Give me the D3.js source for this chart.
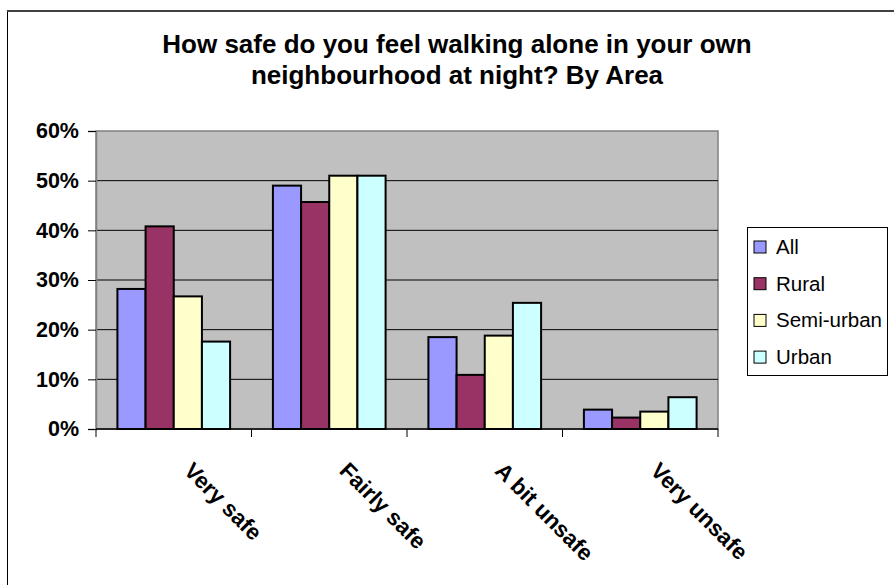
<!DOCTYPE html>
<html>
<head>
<meta charset="utf-8">
<script src="https://cdn.jsdelivr.net/npm/d3@7"></script>
<style>
  html, body { margin: 0; padding: 0; background: #fff; }
  svg { display: block; font-family: "Liberation Sans", Arial, sans-serif; }
</style>
</head>
<body>
<svg id="chart" width="894" height="585"></svg>
<script>
// Survey responses by area (share of respondents)
const categories = ["Very safe", "Fairly safe", "A bit unsafe", "Very unsafe"];
const seriesNames = ["All", "Rural", "Semi-urban", "Urban"];
const allValues = [0.282, 0.490, 0.185, 0.039];
const ruralValues = [0.408, 0.457, 0.109, 0.023];
const semiUrbanValues = [0.267, 0.510, 0.188, 0.035];
const urbanValues = [0.176, 0.510, 0.254, 0.064];
const yTicks = [0, 0.1, 0.2, 0.3, 0.4, 0.5, 0.6];
const seriesColors = ["#9999FF", "#993366", "#FFFFCC", "#CCFFFF"];

const seriesValues = [allValues, ruralValues, semiUrbanValues, urbanValues];
const table = categories.map((c, i) => ({
  category: c,
  values: seriesNames.map((s, j) => ({ series: s, value: seriesValues[j][i] }))
}));

const svg = d3.select("#chart");

// chart frame
svg.append("rect")
  .attr("x", 7.5).attr("y", 11)
  .attr("width", 900).attr("height", 600)
  .attr("fill", "#fff").attr("stroke", "#000").attr("stroke-width", 1);
svg.append("line")
  .attr("x1", 7).attr("x2", 894).attr("y1", 11).attr("y2", 11)
  .attr("stroke", "#404040").attr("stroke-width", 2);

// title
const title = svg.append("text")
  .attr("x", 457).attr("text-anchor", "middle")
  .attr("font-weight", "bold").attr("font-size", 26).attr("fill", "#000");
title.append("tspan").attr("x", 457).attr("y", 53)
  .text("How safe do you feel walking alone in your own");
title.append("tspan").attr("x", 457).attr("y", 84)
  .text("neighbourhood at night? By Area");

const plot = { left: 96, right: 718, top: 131, bottom: 429 };

const x0 = d3.scaleBand()
  .domain(categories)
  .range([plot.left, plot.right])
  .paddingInner(0).paddingOuter(0);

const x1 = d3.scaleBand()
  .domain(seriesNames)
  .range([0, x0.bandwidth()])
  .paddingOuter(0.76).paddingInner(0);

const y = d3.scaleLinear().domain([0, 0.6]).range([plot.bottom, plot.top]);

// plot area
svg.append("rect")
  .attr("x", plot.left).attr("y", plot.top)
  .attr("width", plot.right - plot.left).attr("height", plot.bottom - plot.top)
  .attr("fill", "#C0C0C0").attr("stroke", "#808080").attr("stroke-width", 1.5);

// gridlines
svg.append("g").selectAll("line")
  .data(yTicks.filter(t => t > 0 && t < 0.6))
  .join("line")
  .attr("x1", plot.left).attr("x2", plot.right)
  .attr("y1", d => y(d)).attr("y2", d => y(d))
  .attr("stroke", "#000").attr("stroke-width", 1);

// bars
const groups = svg.append("g").selectAll("g")
  .data(table)
  .join("g")
  .attr("transform", d => `translate(${x0(d.category)},0)`);

groups.selectAll("rect")
  .data(d => d.values)
  .join("rect")
  .attr("x", d => x1(d.series))
  .attr("y", d => y(d.value))
  .attr("width", x1.bandwidth())
  .attr("height", d => y(0) - y(d.value))
  .attr("fill", (d, i) => seriesColors[i])
  .attr("stroke", "#000").attr("stroke-width", 2);

// y axis
const yAxis = d3.axisLeft(y)
  .tickValues(yTicks)
  .tickFormat(d3.format(".0%"))
  .tickSize(8).tickPadding(9);
const yg = svg.append("g")
  .attr("transform", `translate(${plot.left},0)`)
  .call(yAxis);
yg.select(".domain").attr("stroke", "#808080").attr("stroke-width", 1.5);
yg.selectAll(".tick line").attr("stroke", "#000");
yg.selectAll(".tick text")
  .attr("font-family", "Liberation Sans, Arial, sans-serif")
  .attr("font-size", 21.5).attr("font-weight", "bold").attr("fill", "#000");

// x axis with ticks at category boundaries
const xg = svg.append("g").attr("transform", `translate(0,${plot.bottom})`);
xg.append("line")
  .attr("x1", plot.left).attr("x2", plot.right)
  .attr("stroke", "#000").attr("stroke-width", 1.5);
const boundaries = categories.map(c => x0(c)).concat([plot.right]);
xg.selectAll("line.tick")
  .data(boundaries)
  .join("line").attr("class", "tick")
  .attr("x1", d => d).attr("x2", d => d)
  .attr("y1", 0).attr("y2", 8)
  .attr("stroke", "#000");
xg.selectAll("text")
  .data(categories)
  .join("text")
  .attr("transform", d => `translate(${x0(d) + x0.bandwidth() / 2 + 9},43) rotate(45)`)
  .attr("font-size", 22.5).attr("font-weight", "bold").attr("fill", "#000")
  .text(d => d);

// legend
const legend = svg.append("g");
legend.append("rect")
  .attr("x", 747.5).attr("y", 227.5).attr("width", 140).attr("height", 148)
  .attr("fill", "#fff").attr("stroke", "#000").attr("stroke-width", 1);
const items = legend.selectAll("g.item")
  .data(seriesNames)
  .join("g").attr("class", "item")
  .attr("transform", (d, i) => `translate(754,${241 + i * 36.7})`);
items.append("rect")
  .attr("width", 12).attr("height", 12)
  .attr("fill", (d, i) => seriesColors[i])
  .attr("stroke", "#000").attr("stroke-width", 1);
items.append("text")
  .attr("x", 22).attr("y", 13)
  .attr("font-size", 20.5).attr("fill", "#000")
  .text(d => d);
</script>
</body>
</html>
